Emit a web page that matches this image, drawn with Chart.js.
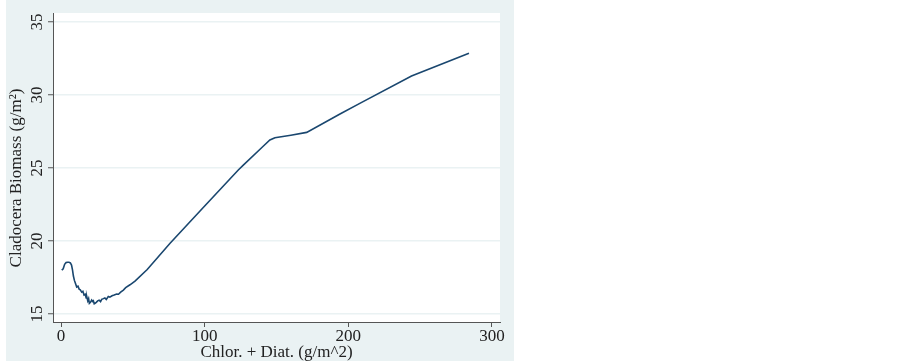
<!DOCTYPE html>
<html>
<head>
<meta charset="utf-8">
<title>Cladocera Biomass</title>
<script src="https://cdn.jsdelivr.net/npm/chart.js@4.4.1/dist/chart.umd.min.js"></script>
<style>
  body { margin: 0; background: #ffffff; }
  #wrap { position: absolute; left: 6px; top: 0; width: 508px; height: 361px; background: #eaf2f3; }
</style>
</head>
<body>
<div id="wrap"><canvas id="chart" width="508" height="361"></canvas></div>
<script>
// chlorophyta + diatoms (g/m^2) against smoothed cladocera biomass (g/m^2)
const chlorDiat = [0.5, 1.5, 2.5, 3.5, 4.5, 5.5, 6.5, 7.3, 8, 8.6, 9.3, 10, 10.9, 11.8, 12.6,
  13.4, 14.4, 15.2, 16, 16.8, 17.5, 17.9, 18.6, 19.2, 19.7, 20.5, 21.3, 22, 22.5, 23.1, 23.7,
  24.5, 25.5, 26.5, 27.5, 28.3, 29.5, 30.5, 31.5, 32.9, 34, 35.5, 37, 38.7, 40, 41.5, 43.4,
  45, 48, 51.5, 60, 75.9, 100, 123.4, 126.9, 140, 145.4, 148.9, 160, 171, 194.2, 208, 244, 284];
const cladocera = [18.0, 18.1, 18.4, 18.52, 18.54, 18.54, 18.5, 18.35, 18.0, 17.6, 17.3, 17.1,
  16.85, 16.9, 16.7, 16.65, 16.5, 16.55, 16.3, 16.35, 16.1, 16.2, 15.9, 16.05, 15.73, 15.8,
  15.95, 15.85, 15.9, 15.7, 15.73, 15.8, 15.9, 15.95, 15.85, 16.0, 16.05, 16.1, 16.0, 16.2,
  16.15, 16.25, 16.3, 16.37, 16.35, 16.5, 16.64, 16.8, 17.0, 17.25, 18.05, 19.84, 22.4, 24.86,
  25.2, 26.42, 26.92, 27.08, 27.25, 27.44, 28.7, 29.43, 31.3, 32.86];
const xTicks = [0, 100, 200, 300];
const yTicks = [15, 20, 25, 30, 35];

const points = chlorDiat.map((x, i) => ({ x: x, y: cladocera[i] }));

const serif = "'Liberation Serif', 'Times New Roman', serif";

const plotBg = {
  id: "plotBg",
  beforeDraw(chart) {
    const { ctx, chartArea: a } = chart;
    ctx.save();
    ctx.fillStyle = "#ffffff";
    ctx.fillRect(a.left, a.top, a.right - a.left, a.bottom - a.top);
    ctx.restore();
  },
  afterDraw(chart) {
    // y title drawn by hand so it sits where Stata put it
    const ctx = chart.ctx;
    ctx.save();
    ctx.translate(11, 178);
    ctx.rotate(-Math.PI / 2);
    ctx.fillStyle = "#222222";
    ctx.font = "17px " + serif;
    ctx.textAlign = "center";
    ctx.textBaseline = "middle";
    ctx.fillText("Cladocera Biomass (g/m\u00b2)", 0, 0);
    ctx.restore();
  }
};

new Chart(document.getElementById("chart"), {
  type: "line",
  data: {
    datasets: [{
      data: points,
      borderColor: "#1a476f",
      borderWidth: 1.6,
      pointRadius: 0,
      tension: 0,
      fill: false
    }]
  },
  options: {
    responsive: false,
    animation: false,
    devicePixelRatio: 1,
    layout: { padding: { top: 13, right: 14, left: 0, bottom: 0 } },
    plugins: { legend: { display: false }, tooltip: { enabled: false } },
    scales: {
      x: {
        type: "linear",
        min: -5.6,
        max: 305.6,
        afterBuildTicks: (s) => { s.ticks = xTicks.map(v => ({ value: v })); },
        afterFit: (s) => { s.height = 39; },
        grid: { drawOnChartArea: false, tickLength: 5, tickColor: "#555555", tickWidth: 1 },
        border: { display: true, color: "#555555", width: 1 },
        ticks: { autoSkip: false, maxRotation: 0, padding: -1, color: "#222222", font: { family: serif, size: 17 } },
        title: { display: true, text: "Chlor. + Diat. (g/m^2)", color: "#222222", padding: { top: 0, bottom: 0 }, font: { family: serif, size: 17, lineHeight: 1 } }
      },
      y: {
        min: 14.45,
        max: 35.62,
        afterBuildTicks: (s) => { s.ticks = yTicks.map(v => ({ value: v })); },
        afterFit: (s) => { s.width = 47; },
        grid: { color: "#eaf2f3", lineWidth: 1.5, tickLength: 5, tickColor: "#555555", tickWidth: 1 },
        border: { display: true, color: "#555555", width: 1 },
        ticks: { autoSkip: false, minRotation: 90, maxRotation: 90, crossAlign: "center", padding: 2, color: "#222222", font: { family: serif, size: 17 } }
      }
    }
  },
  plugins: [plotBg]
});
</script>
</body>
</html>
